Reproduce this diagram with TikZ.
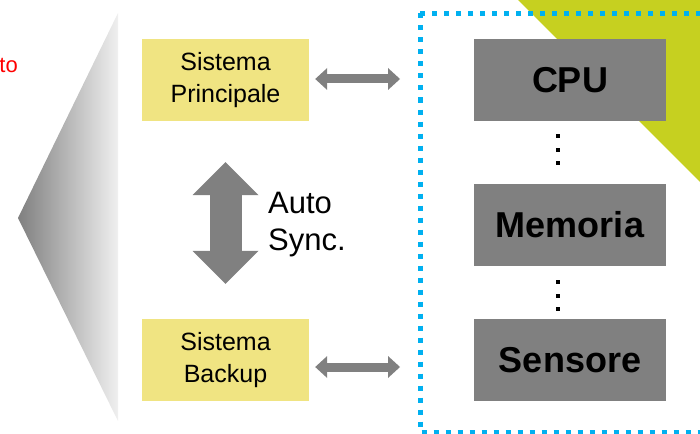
\documentclass[tikz,border=0pt]{standalone}
\usepackage{fontspec}
\setmainfont{Liberation Sans}
\usepackage{xcolor}
\usetikzlibrary{positioning,arrows.meta}
\definecolor{boxyellow}{RGB}{240,228,130}
\definecolor{boxgray}{RGB}{128,128,128}
\definecolor{limegreen}{RGB}{198,208,32}
\definecolor{dotblue}{RGB}{0,176,240}

\tikzset{
  sysbox/.style={fill=boxyellow, minimum width=167pt, minimum height=82pt, align=center,
    inner sep=0pt, font=\fontsize{25}{32}\selectfont},
  partbox/.style={fill=boxgray, minimum width=192pt, minimum height=82pt,
    inner sep=0pt, font=\bfseries\fontsize{36}{40}\selectfont},
  linkarrow/.style={draw=boxgray, line width=9pt,
    {Triangle[length=12pt,width=22pt,line width=0pt]}-{Triangle[length=12pt,width=22pt,line width=0pt]}},
  syncarrow/.style={draw=boxgray, line width=32pt,
    {Triangle[length=33pt,width=66pt,line width=0pt]}-{Triangle[length=33pt,width=66pt,line width=0pt]}}
}

\begin{document}
\begin{tikzpicture}[x=1pt,y=-1pt]
\useasboundingbox (0,0) rectangle (700,433);
\clip (0,0) rectangle (700,433);

% Green corner in the background
\fill[limegreen] (518,0) -- (700,0) -- (700,182) -- cycle;

% Red caption, cut by the left edge
\node[anchor=base east, text=red, inner sep=0pt, font=\fontsize{22}{26}\selectfont] (cut) at (18,73) {to};

% Gradient wedge
\shade[left color=black!50, right color=black!6] (18,218) -- (118,13) -- (118,421) -- cycle;

% Main and backup system
\node[sysbox] (principale) at (225.5,80) {Sistema\\Principale};
\node[sysbox] (backup) at (225.5,360) {Sistema\\Backup};

% Auto sync between them
\draw[syncarrow, shorten <=41pt, shorten >=35pt] (principale) -- (backup);
\node[anchor=north west, align=left, inner sep=0pt, font=\fontsize{31}{37}\selectfont] (sync) at (268,192) {Auto\\Sync.};

% Links to the hardware
\coordinate (linkP) at (400,79);
\coordinate (linkB) at (400,367);
\draw[linkarrow, shorten <=6pt] (principale.east |- linkP) -- (linkP);
\draw[linkarrow, shorten <=6pt] (backup.east |- linkB) -- (linkB);

% Hardware frame
\draw[dotblue, line width=5pt, dash pattern=on 5pt off 7pt] (420,13.5) rectangle (760,432);

% Hardware parts
\foreach \y/\name/\txt in {80/cpu/CPU, 225/memoria/Memoria, 360/sensore/Sensore} {
    \node[partbox] (\name) at (570,\y) {\txt};
}

% Vertical dots
\foreach \y in {136,150,163,282,296,309} {
    \fill (558,\y) +(-2.3,-2.3) rectangle +(2.3,2.3);
}
\end{tikzpicture}
\end{document}
